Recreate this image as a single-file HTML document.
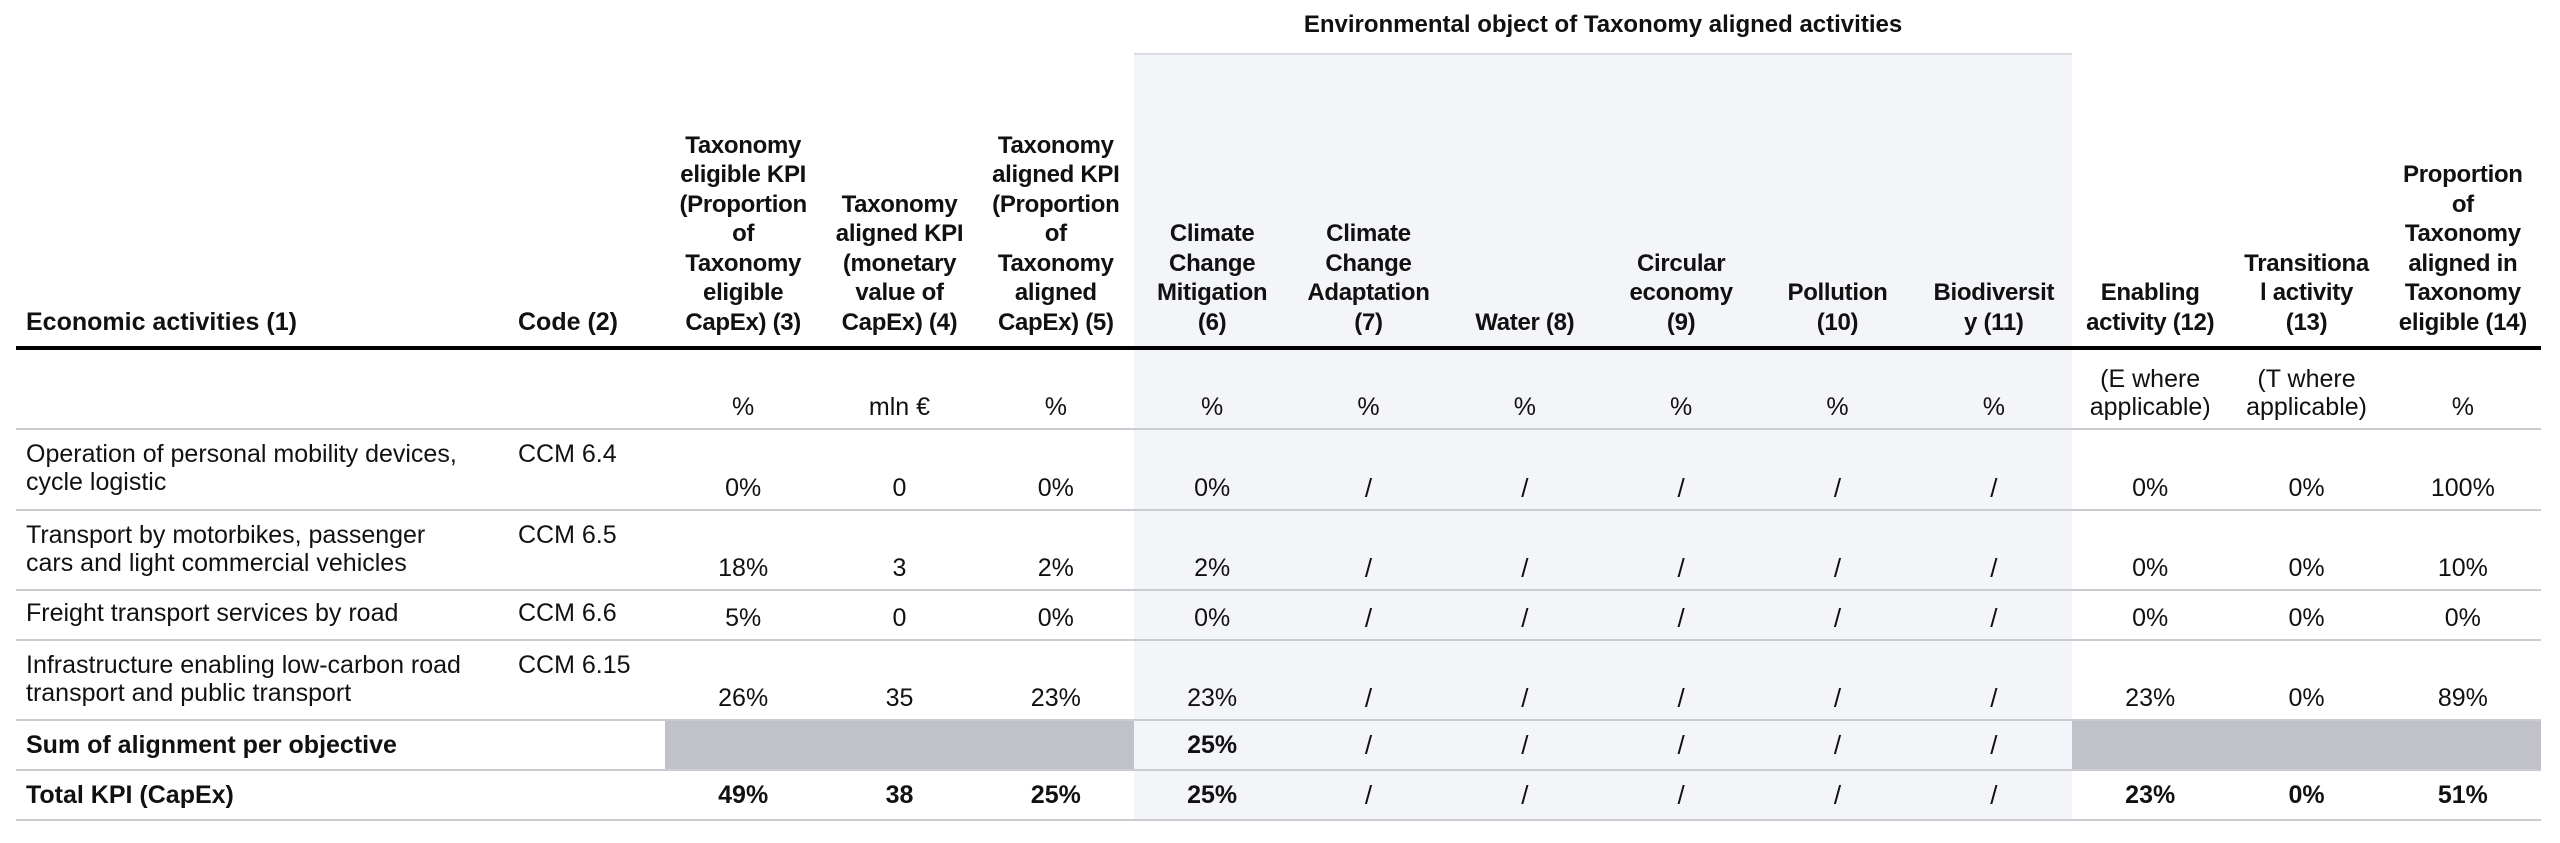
<!DOCTYPE html>
<html><head><meta charset="utf-8"><style>
html,body{margin:0;padding:0;background:#fff;width:2560px;height:843px;overflow:hidden}
body{font-family:"Liberation Sans",sans-serif;color:#111;font-size:25px}
table{position:absolute;left:16px;top:0;border-collapse:collapse;table-layout:fixed;width:2525px}
td{padding:0 1px;text-align:center;vertical-align:bottom;line-height:28px;overflow:hidden;white-space:nowrap}
.s{background:#f4f5f9}
.g{background:#c1c1ca}
tr.b td{border-bottom:2px solid #cbccd1}
.l{text-align:left;padding-left:10px}
.c2{text-align:left;padding-left:8px}
.hd td{font-weight:bold;font-size:24px;letter-spacing:-0.3px;line-height:29.5px;padding-bottom:9px;border-bottom:4px solid #000}
.hd td.l,.hd td.c2{font-size:25px;letter-spacing:0}
.d td{padding-bottom:7px}
.d td.l,.d td.c2{vertical-align:top;padding-top:10px}
.sm td{vertical-align:middle;font-weight:bold}
.sm td.n{font-weight:normal}
.sl{font-size:26px}
</style></head><body>
<table>
<colgroup><col style="width:494px"><col style="width:155px">
<col span="12" style="width:156.33px"></colgroup>
<tr style="height:54px"><td></td><td></td><td></td><td></td><td></td>
<td colspan="6" style="font-weight:bold;font-size:24px;vertical-align:middle;border-bottom:2px solid #dcdde2;padding-bottom:4px">Environmental object of Taxonomy aligned activities</td><td></td><td></td><td></td></tr>
<tr class="hd" style="height:294px">
<td class="l">Economic activities (1)</td><td class="c2">Code (2)</td>
<td>Taxonomy<br>eligible KPI<br>(Proportion<br>of<br>Taxonomy<br>eligible<br>CapEx) (3)</td>
<td>Taxonomy<br>aligned KPI<br>(monetary<br>value of<br>CapEx) (4)</td>
<td>Taxonomy<br>aligned KPI<br>(Proportion<br>of<br>Taxonomy<br>aligned<br>CapEx) (5)</td>
<td class="s">Climate<br>Change<br>Mitigation<br>(6)</td><td class="s">Climate<br>Change<br>Adaptation<br>(7)</td><td class="s">Water (8)</td><td class="s">Circular<br>economy<br>(9)</td><td class="s">Pollution<br>(10)</td><td class="s">Biodiversit<br>y (11)</td>
<td>Enabling<br>activity (12)</td><td>Transitiona<br>l activity<br>(13)</td><td>Proportion<br>of<br>Taxonomy<br>aligned in<br>Taxonomy<br>eligible (14)</td></tr>
<tr class="b d" style="height:81px"><td></td><td></td><td>%</td><td>mln €</td><td>%</td>
<td class="s">%</td><td class="s">%</td><td class="s">%</td><td class="s">%</td><td class="s">%</td><td class="s">%</td>
<td>(E where<br>applicable)</td><td>(T where<br>applicable)</td><td>%</td></tr>
<tr class="b d" style="height:81px"><td class="l">Operation of personal mobility devices,<br>cycle logistic</td><td class="c2">CCM 6.4</td><td>0%</td><td>0</td><td>0%</td>
<td class="s">0%</td><td class="s sl">/</td><td class="s sl">/</td><td class="s sl">/</td><td class="s sl">/</td><td class="s sl">/</td><td>0%</td><td>0%</td><td>100%</td></tr>
<tr class="b d" style="height:80px"><td class="l">Transport by motorbikes, passenger<br>cars and light commercial vehicles</td><td class="c2">CCM 6.5</td><td>18%</td><td>3</td><td>2%</td>
<td class="s">2%</td><td class="s sl">/</td><td class="s sl">/</td><td class="s sl">/</td><td class="s sl">/</td><td class="s sl">/</td><td>0%</td><td>0%</td><td>10%</td></tr>
<tr class="b d" style="height:50px"><td class="l" style="padding-top:8px">Freight transport services by road</td><td class="c2" style="padding-top:8px">CCM 6.6</td><td>5%</td><td>0</td><td>0%</td>
<td class="s">0%</td><td class="s sl">/</td><td class="s sl">/</td><td class="s sl">/</td><td class="s sl">/</td><td class="s sl">/</td><td>0%</td><td>0%</td><td>0%</td></tr>
<tr class="b d" style="height:80px"><td class="l">Infrastructure enabling low-carbon road<br>transport and public transport</td><td class="c2">CCM 6.15</td><td>26%</td><td>35</td><td>23%</td>
<td class="s">23%</td><td class="s sl">/</td><td class="s sl">/</td><td class="s sl">/</td><td class="s sl">/</td><td class="s sl">/</td><td>23%</td><td>0%</td><td>89%</td></tr>
<tr class="b sm" style="height:50px"><td class="l">Sum of alignment per objective</td><td></td><td class="g"></td><td class="g"></td><td class="g"></td>
<td class="s">25%</td><td class="s sl n">/</td><td class="s sl n">/</td><td class="s sl n">/</td><td class="s sl n">/</td><td class="s sl n">/</td><td class="g"></td><td class="g"></td><td class="g"></td></tr>
<tr class="b sm" style="height:50px"><td class="l">Total KPI (CapEx)</td><td></td><td>49%</td><td>38</td><td>25%</td>
<td class="s">25%</td><td class="s sl n">/</td><td class="s sl n">/</td><td class="s sl n">/</td><td class="s sl n">/</td><td class="s sl n">/</td><td>23%</td><td>0%</td><td>51%</td></tr>
</table>
</body></html>
